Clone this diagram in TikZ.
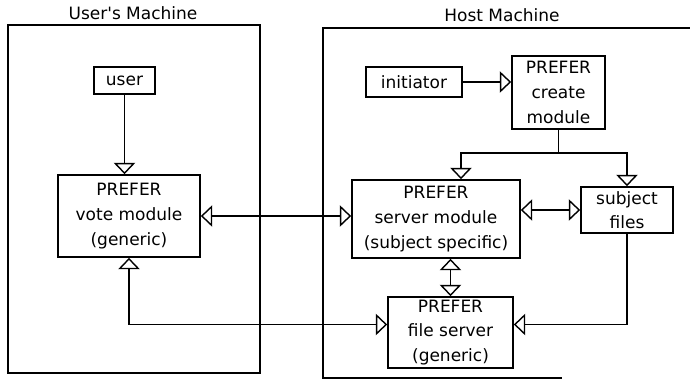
\documentclass[tikz,border=0pt]{standalone}
\usepackage{fontspec}
\setmainfont{DejaVu Sans}
\usetikzlibrary{arrows.meta,calc}

\begin{document}
\begin{tikzpicture}[x=0.03cm,y=-0.03cm,
  box/.style={draw,line width=1.4pt,align=center,inner sep=0,font=\fontsize{14.5}{21}\selectfont},
  frame/.style={line width=1.3pt},
  ttl/.style={font=\fontsize{14.5}{21}\selectfont},
  tri/.style={line width=1.2pt,-{Triangle[open,length=3.4mm,width=6.4mm]}},
  dtri/.style={line width=1.2pt,{Triangle[open,length=3.4mm,width=6.4mm]}-{Triangle[open,length=3.4mm,width=6.4mm]}}]
 \useasboundingbox (0,0) rectangle (690,379);
 % user's machine
 \node[ttl] (umt) at (133,13) {User\textquotesingle s Machine};
 \draw[frame] (8,25) rectangle (260,373);
 \node[box,minimum width=1.83cm,minimum height=0.81cm] (user) at (124.5,80.5) {user};
 \node[box,minimum width=4.26cm,minimum height=2.46cm] (vote) at (129,216) {PREFER\\ vote module\\ (generic)};
 % host machine
 \node[ttl] (hmt) at (502,15) {Host Machine};
 \draw[frame] (690,28) -- (323,28) -- (323,378) -- (562,378);
 \node[box,minimum width=2.88cm,minimum height=0.9cm] (init) at (414,82) {initiator};
 \node[box,minimum width=2.79cm,minimum height=2.19cm] (create) at (558.5,92.5) {PREFER\\ create\\ module};
 \node[box,minimum width=5.04cm,minimum height=2.34cm] (server) at (436,219) {PREFER\\ server module\\ (subject specific)};
 \node[box,minimum width=2.76cm,minimum height=1.38cm] (files) at (627,210) {subject\\ files};
 \node[box,minimum width=3.75cm,minimum height=2.13cm] (fsrv) at (450.5,332.5) {PREFER\\ file server\\ (generic)};
 % connectors
 \draw[tri] (user.south) -- (user.south |- vote.north);
 \draw[tri] (init.east) -- (init.east -| create.west);
 \draw[tri] (create.south) -- ++(0,23) -| ($(server.north)+(25,0)$);
 \draw[tri] (create.south) -- ++(0,23) -| (files.north);
 \draw[dtri] (vote.east) -- (vote.east -| server.west);
 \draw[dtri] (files.west -| server.east) -- (files.west);
 \draw[dtri] (server.south -| fsrv.north) -- (fsrv.north);
 \draw[tri] (files.south) |- ($(fsrv.east)+(0,-8)$);
 \draw[dtri] ($(fsrv.west)+(0,-8)$) -| (vote.south);
\end{tikzpicture}
\end{document}
